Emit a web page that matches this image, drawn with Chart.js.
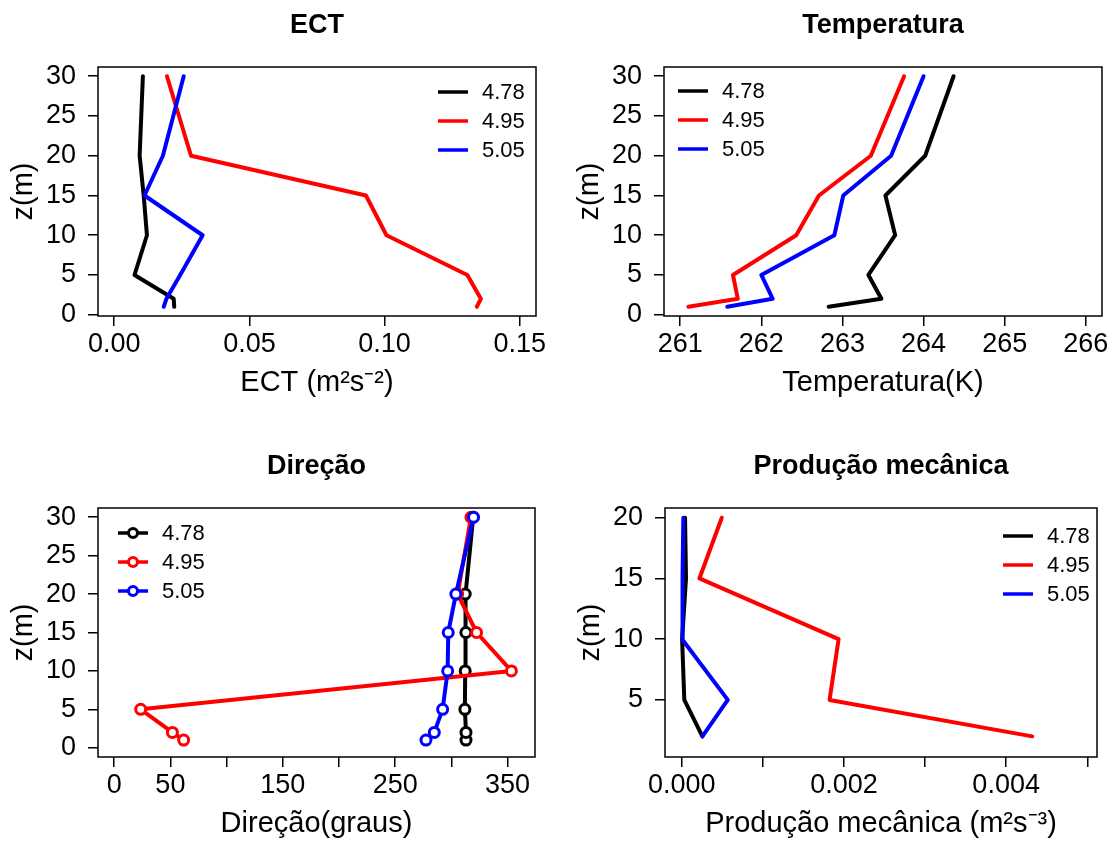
<!DOCTYPE html>
<html>
<head>
<title>Perfis verticais</title>
<style>
  body { margin: 0; background: #fff; overflow: hidden; }
  canvas { position: absolute; }
</style>
<script src="https://cdn.jsdelivr.net/npm/chart.js"></script>
</head>
<body>
<canvas id="ect" style="left:0px;top:0px" width="557" height="421"></canvas>
<canvas id="temp" style="left:557px;top:0px" width="557" height="421"></canvas>
<canvas id="dir" style="left:0px;top:441px" width="557" height="421"></canvas>
<canvas id="prod" style="left:557px;top:441px" width="557" height="421"></canvas>
<script>
// alturas (m)
const z = [1, 2, 5, 10, 15, 20, 30];
const zProd = [2, 5, 10, 15, 20];

const rotulos = ['4.78', '4.95', '5.05'];
const cores = ['#000000', '#ff0000', '#0000ff'];

// ECT (m2 s-2)
const ect478 = [0.0222, 0.0220, 0.0075, 0.0121, 0.0109, 0.0094, 0.0106];
const ect495 = [0.1341, 0.1356, 0.1306, 0.1007, 0.0931, 0.0284, 0.0195];
const ect505 = [0.0183, 0.0193, 0.0244, 0.0327, 0.0112, 0.0180, 0.0257];

// Temperatura (K)
const temp478 = [262.83, 263.48, 263.32, 263.65, 263.53, 264.02, 264.37];
const temp495 = [261.10, 261.71, 261.65, 262.43, 262.71, 263.35, 263.76];
const temp505 = [261.58, 262.14, 262.00, 262.90, 263.01, 263.60, 264.00];

// Direcao (graus)
const dir478 = [313.0, 313.0, 312.0, 312.3, 312.9, 312.3, 319.4];
const dir495 = [61.8, 51.8, 23.6, 353.4, 322.4, 305.6, 317.4];
const dir505 = [277.4, 284.8, 292.2, 296.7, 297.2, 304.0, 319.7];

// Producao mecanica (m2 s-3)
const prod478 = [0.000255, 0.000032, 0.000005, 0.000053, 0.000041];
const prod495 = [0.004321, 0.001823, 0.001934, 0.000218, 0.000494];
const prod505 = [0.000255, 0.000568, 0.000005, 0.000010, 0.000020];

// ticks
const zTicks = [0, 5, 10, 15, 20, 25, 30];
const zProdTicks = [5, 10, 15, 20];
const ectTicks = [0, 0.05, 0.10, 0.15];
const ectLabels = ['0.00', '0.05', '0.10', '0.15'];
const tempTicks = [261, 262, 263, 264, 265, 266];
const tempLabels = ['261', '262', '263', '264', '265', '266'];
const dirTicks = [0, 50, 100, 150, 200, 250, 300, 350];
const dirLabels = ['0', '50', '', '150', '', '250', '', '350'];
const prodTicks = [0, 0.001, 0.002, 0.003, 0.004, 0.005];
const prodLabels = ['0.000', '', '0.002', '', '0.004', ''];

const FONTE = '"Liberation Sans", Arial, sans-serif';
Chart.defaults.font.family = FONTE;
Chart.defaults.color = '#000';

const moldura = {
  id: 'moldura',
  afterDatasetsDraw(chart, args, opts) {
    const ctx = chart.ctx, a = chart.chartArea;
    ctx.save();
    ctx.strokeStyle = '#000';
    ctx.lineWidth = 1.5;
    ctx.strokeRect(a.left, a.top, a.right - a.left, a.bottom - a.top);

    ctx.fillStyle = '#000';
    ctx.font = 'bold 27px ' + FONTE;
    ctx.textAlign = 'center';
    ctx.textBaseline = 'middle';
    ctx.fillText(opts.titulo, (a.left + a.right) / 2, 26);

    // legenda dentro do painel
    ctx.font = '22px ' + FONTE;
    ctx.textAlign = 'left';
    chart.data.datasets.forEach((ds, i) => {
      const y = opts.legY + i * 29;
      ctx.strokeStyle = ds.borderColor;
      ctx.lineWidth = 3.5;
      ctx.beginPath();
      ctx.moveTo(opts.legX, y);
      ctx.lineTo(opts.legX + 30, y);
      ctx.stroke();
      if (opts.pontos) {
        ctx.beginPath();
        ctx.arc(opts.legX + 15, y, 4.5, 0, Math.PI * 2);
        ctx.fillStyle = '#fff';
        ctx.fill();
        ctx.lineWidth = 3;
        ctx.stroke();
      }
      ctx.fillStyle = '#000';
      ctx.fillText(ds.label, opts.legX + 44, y + 1);
    });
    ctx.restore();
  }
};

function serie(xs, zs, i, pontos) {
  return {
    label: rotulos[i],
    data: xs.map((v, k) => ({ x: v, y: zs[k] })),
    showLine: true,
    borderColor: cores[i],
    borderWidth: 4,
    borderCapStyle: 'round',
    borderJoinStyle: 'round',
    pointRadius: pontos ? 5 : 0,
    pointBorderWidth: 3,
    pointBorderColor: cores[i],
    pointBackgroundColor: '#fff',
    order: 3 - i
  };
}

function eixo(min, max, ticks, labels, titulo, horizontal) {
  const cfg = {
    type: 'linear',
    min: min,
    max: max,
    afterBuildTicks: s => { s.ticks = ticks.map(v => ({ value: v })); },
    ticks: {
      autoSkip: false,
      maxRotation: 0,
      font: { size: 27 },
      padding: horizontal ? 2 : 12,
      callback: (v, i) => labels[i]
    },
    grid: { drawOnChartArea: false, drawTicks: true, tickLength: 10, color: '#000', lineWidth: 1.5 },
    border: { display: false },
    title: {
      display: true,
      text: titulo,
      font: { size: 29 },
      padding: horizontal ? { top: 0, bottom: 21 } : { top: 7, bottom: 0 }
    }
  };
  if (horizontal) cfg.afterFit = s => { s.height = 105; };
  else cfg.afterFit = s => { s.width = 98; };
  return cfg;
}

function painel(id, dados, zs, ex, ey, opts) {
  new Chart(document.getElementById(id), {
    type: 'scatter',
    data: { datasets: dados.map((d, i) => serie(d, zs, i, opts.pontos)) },
    options: {
      responsive: false,
      animation: false,
      layout: { padding: { top: 67, right: opts.direita, left: opts.esquerda, bottom: 0 } },
      scales: { x: ex, y: ey },
      plugins: {
        legend: { display: false },
        tooltip: { enabled: false },
        moldura: opts
      }
    },
    plugins: [moldura]
  });
}

painel('ect', [ect478, ect495, ect505], z,
  eixo(-0.006, 0.156, ectTicks, ectLabels, 'ECT (m²s⁻²)', true),
  eixo(-0.16, 31.16, zTicks, zTicks.map(String), 'z(m)', false),
  { titulo: 'ECT', legX: 438, legY: 92, pontos: false, direita: 21, esquerda: 0 });

painel('temp', [temp478, temp495, temp505], z,
  eixo(260.8, 266.2, tempTicks, tempLabels, 'Temperatura(K)', true),
  eixo(-0.16, 31.16, zTicks, zTicks.map(String), 'z(m)', false),
  { titulo: 'Temperatura', legX: 121, legY: 91, pontos: false, direita: 12, esquerda: 9 });

painel('dir', [dir478, dir495, dir505], z,
  eixo(-14.4, 374.4, dirTicks, dirLabels, 'Direção(graus)', true),
  eixo(-1.2, 31.2, zTicks, zTicks.map(String), 'z(m)', false),
  { titulo: 'Direção', legX: 118, legY: 92, pontos: true, direita: 22, esquerda: 0 });

painel('prod', [prod478, prod495, prod505], zProd,
  eixo(-0.000206, 0.00512, prodTicks, prodLabels, 'Produção mecânica (m²s⁻³)', true),
  eixo(0.3, 20.8, zProdTicks, zProdTicks.map(String), 'z(m)', false),
  { titulo: 'Produção mecânica', legX: 446, legY: 95, pontos: false, direita: 17, esquerda: 10 });
</script>
</body>
</html>
